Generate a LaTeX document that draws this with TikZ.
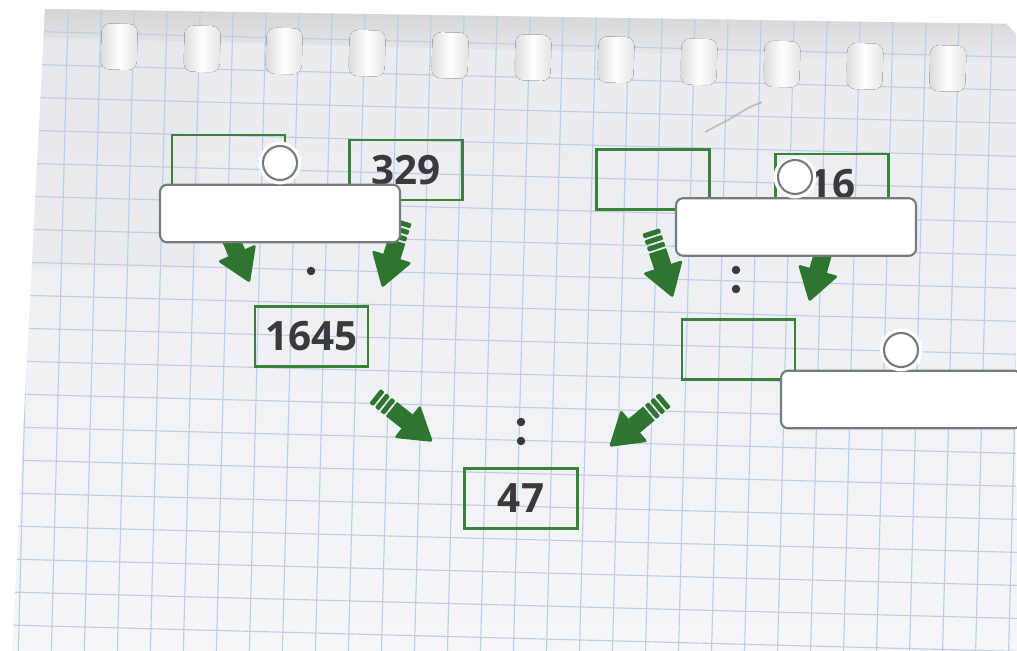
\documentclass[tikz,border=0pt]{standalone}
\usepackage{fontspec}
\newfontfamily\numfont{Open Sans}
\usetikzlibrary{calc}
\definecolor{boxgreen}{RGB}{58,130,60}
\definecolor{arrowgreen}{RGB}{46,118,48}
\definecolor{inkgray}{RGB}{58,58,62}
\definecolor{gridblue}{RGB}{192,205,228}
\definecolor{paperlight}{RGB}{245,246,249}
\definecolor{paperdark}{RGB}{233,235,239}
\definecolor{framegray}{RGB}{118,124,126}
\tikzset{
  numbox/.style={draw=boxgreen,line width=1.3pt,minimum width=2.26cm,minimum height=1.2cm,
    inner sep=0pt,text=inkgray,font=\numfont\fontsize{23}{23}\selectfont\bfseries},
  coverbox/.style={draw=framegray,fill=white,line width=1.2pt,rounded corners=4pt,
    minimum width=4.8cm,minimum height=1.15cm,inner sep=0pt},
  pinmark/.style={circle,draw=framegray,fill=white,line width=1.2pt,minimum size=0.68cm,
    inner sep=0pt,preaction={draw=white,line width=5pt}},
  inkdot/.style={circle,fill=inkgray,minimum size=0.17cm,inner sep=0pt},
  gridline/.style={draw=gridblue,line width=0.65pt},
  punchhole/.style={rounded corners=5pt,left color=gray!28,right color=gray!22,middle color=white},
}
% fat green arrow with a striped tail, from #1 (tail) to #2 (tip)
\newcommand{\fatarrow}[2]{%
  \path let \p1=($(#2)-(#1)$) in \pgfextra{%
    \pgfmathsetmacro\arrang{atan2(\y1,\x1)}\global\let\arrang\arrang
    \pgfmathsetmacro\arrlen{veclen(\x1,\y1)/0.569055}\global\let\arrlen\arrlen};
  \begin{scope}[shift={(#1)},rotate=\arrang,x=0.02cm,y=0.02cm]
    \fill[arrowgreen,rounded corners=0.6pt] (0,-9) rectangle (5,9);
    \fill[arrowgreen,rounded corners=0.6pt] (7,-9) rectangle (12,9);
    \fill[arrowgreen,rounded corners=0.6pt] (14,-9) rectangle (19,9);
    \fill[arrowgreen] (21,-9) rectangle ({\arrlen-31},9);
    \fill[arrowgreen,rounded corners=1.5pt] ({\arrlen-33},-21) -- (\arrlen,0) -- ({\arrlen-33},21) -- cycle;
  \end{scope}}

\begin{document}
\begin{tikzpicture}[x=0.02cm,y=-0.02cm]
  \useasboundingbox (0,0) rectangle (1017,651);
  \clip (0,0) rectangle (1017,651);
  \fill[white] (0,0) rectangle (1017,651);

  % the sheet
  \shade[top color=paperdark,bottom color=paperlight]
    (45,9) -- (1006,24) -- (1016,34) -- (1017,651) -- (12,651) -- cycle;
  \begin{scope}
    \clip (45,9) -- (1006,24) -- (1016,34) -- (1017,651) -- (12,651) -- cycle;
    \fill[gray,opacity=0.035] (0,0) -- (200,0) -- (200,268) -- (0,268) -- cycle;
    \begin{scope}[rotate around={-1.5:(508,325)}]
      \shade[top color=gray!40,bottom color=paperdark] (-20,0) rectangle (1040,50);
      \foreach \gx in {0,...,32}
        \draw[gridline] ({-6+33*\gx},-20) -- ({-6+33*\gx},690);
      \foreach \gy in {0,...,20}
        \draw[gridline] (-20,{11+33*\gy}) -- (1040,{11+33*\gy});
      \foreach \hx in {112,195,277,360,443,526,609,692,775,858,941}
        \fill[punchhole] ({\hx-18},34) rectangle ({\hx+18},80);
    \end{scope}
  \end{scope}
  \draw[gray!70,line width=1.1pt,opacity=0.6] (705,132) -- (728,120) -- (748,108) -- (762,102);

  % number boxes
  \node[numbox] (first)  at (228.5,165) {};
  \node[numbox] (second) at (406,170) {329};
  \node[numbox] (prod)   at (311.5,336.5) {1645};
  \node[numbox] (dvd)    at (653,179.5) {};
  \node[numbox] (dvs)    at (832,184) {16};
  \node[numbox] (quot)   at (738.5,349.5) {};
  \node[numbox] (result) at (521,498.5) {47};

  % operation signs
  \node[inkdot] (times) at (311,271) {};
  \node[inkdot] (divtopA) at (736,270) {};
  \node[inkdot] (divtopB) at (736,289) {};
  \node[inkdot] (divlowA) at (521,422) {};
  \node[inkdot] (divlowB) at (521,441) {};

  % arrows
  \coordinate (a1) at (222,219);  \coordinate (a1t) at (250,283);
  \coordinate (a2) at (403,221);  \coordinate (a2t) at (382,288);
  \coordinate (a3) at (651,231);  \coordinate (a3t) at (673,298);
  \coordinate (a4) at (829,233);  \coordinate (a4t) at (809,302);
  \coordinate (a5) at (375,396);  \coordinate (a5t) at (433,442);
  \coordinate (a6) at (665,400);  \coordinate (a6t) at (609,447);
  \fatarrow{a1}{a1t}
  \fatarrow{a2}{a2t}
  \fatarrow{a3}{a3t}
  \fatarrow{a4}{a4t}
  \fatarrow{a5}{a5t}
  \fatarrow{a6}{a6t}

  % answer covers
  \node[coverbox] (coverA) at (280,213.5) {};
  \node[coverbox] (coverB) at (796,227) {};
  \node[coverbox] (coverC) at (901,399.5) {};
  \node[pinmark] (pinA) at (280,163) {};
  \node[pinmark] (pinB) at (795,177) {};
  \node[pinmark] (pinC) at (901,350) {};
\end{tikzpicture}
\end{document}
